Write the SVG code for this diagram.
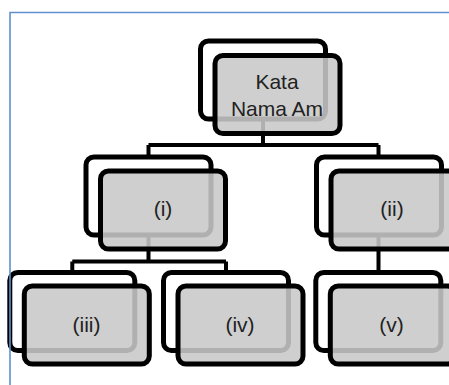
<svg xmlns="http://www.w3.org/2000/svg" width="449" height="385" viewBox="0 0 449 385">
<style>
.back{fill:#ffffff;stroke:#000000;stroke-width:5}
.front{fill:#c8c8c8;fill-opacity:0.88;stroke:#000000;stroke-width:5}
.conn{fill:none;stroke:#000000;stroke-width:4}
.lbl{font-family:"Liberation Sans",Arial,sans-serif;font-size:21px;fill:#222222;text-anchor:middle}
</style>
<rect width="449" height="385" fill="#ffffff"/>
<g id="connectors">
<path class="conn" d="M263 119V145M148.5 145H378.5M148.5 145V157M378.5 145V157"/>
<path class="conn" d="M148.5 235V261.5M72.3 261.5H226M72.3 261.5V272.5M226 261.5V272.5"/>
<path class="conn" d="M378.5 235V272.5"/>
</g>
<g id="node-top">
<rect class="back" x="200.5" y="41" width="125" height="78" rx="8"/>
<rect class="front" x="215" y="55.5" width="125" height="78" rx="8"/>
<text class="lbl" x="277" y="88.5">Kata</text>
<text class="lbl" x="277" y="115.5">Nama Am</text>
</g>
<g id="node-i">
<rect class="back" x="86" y="157" width="125" height="78" rx="8"/>
<rect class="front" x="100.5" y="171" width="125" height="78" rx="8"/>
<text class="lbl" x="163" y="216">(i)</text>
</g>
<g id="node-ii">
<rect class="back" x="316.5" y="157" width="125" height="78" rx="8"/>
<rect class="front" x="331" y="171" width="125" height="78" rx="8"/>
<text class="lbl" x="392" y="216">(ii)</text>
</g>
<g id="node-iii">
<rect class="back" x="9.8" y="272.5" width="125" height="78" rx="8"/>
<rect class="front" x="24.3" y="286" width="125" height="78" rx="8"/>
<text class="lbl" x="86.5" y="332">(iii)</text>
</g>
<g id="node-iv">
<rect class="back" x="163.5" y="272.5" width="125" height="78" rx="8"/>
<rect class="front" x="178" y="286" width="125" height="78" rx="8"/>
<text class="lbl" x="240" y="332">(iv)</text>
</g>
<g id="node-v">
<rect class="back" x="315.8" y="272.5" width="125" height="78" rx="8"/>
<rect class="front" x="330.3" y="286" width="125" height="78" rx="8"/>
<text class="lbl" x="391.5" y="332">(v)</text>
</g>
<path d="M10 400V12.5H460" fill="none" stroke="#6090d0" stroke-width="1.6"/>
</svg>
